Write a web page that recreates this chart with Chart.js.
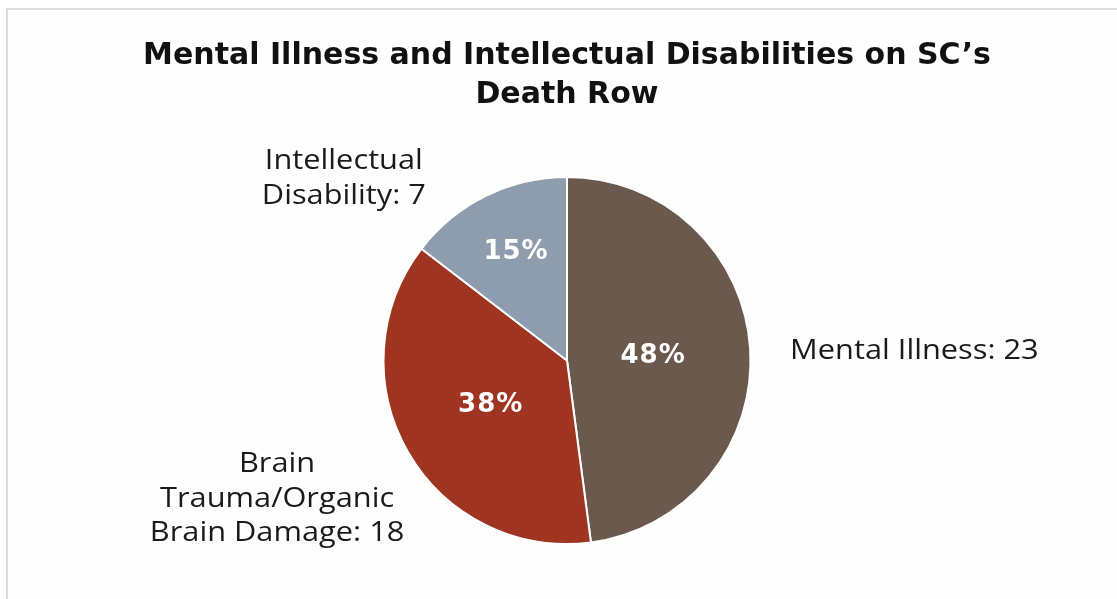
<!DOCTYPE html>
<html>
<head>
<meta charset="utf-8">
<script src="https://cdn.jsdelivr.net/npm/chart.js@4"></script>
<style>
  html, body { margin: 0; padding: 0; background: #fff; }
  #wrap { position: relative; width: 1117px; height: 599px; overflow: hidden; }
  #frame {
    position: absolute; left: 6px; top: 8px; right: -4px; bottom: -4px;
    border-left: 2px solid #dcdcdc; border-top: 2px solid #dcdcdc;
    background: #fefefe;
  }
  canvas { position: absolute; left: 0; top: 0; }
</style>
</head>
<body>
<div id="wrap">
  <div id="frame"></div>
  <canvas id="chart" width="1117" height="599"></canvas>
</div>
<script>
// chart data
const categories = ['Mental Illness', 'Brain Trauma/Organic Brain Damage', 'Intellectual Disability'];
const counts = [23, 18, 7];
const percentLabels = ['48%', '38%', '15%'];
const outerLabels = [
  ['Mental Illness: 23'],
  ['Brain', 'Trauma/Organic', 'Brain Damage: 18'],
  ['Intellectual', 'Disability: 7']
];
const sliceColors = ['#6b594e', '#9f3420', '#8d9dae'];

// where each label sits relative to its slice (px offsets from the rim point)
const outerOffsets = [[40, 3, 'left'], [-131, 47, 'center'], [-142, -17, 'center']];
const innerRadiusFactor = [0.47, 0.48, 0.665];
const labelStretch = 1.14; // widen Open Sans toward the original geometric face

const sliceLabels = {
  id: 'sliceLabels',
  afterDatasetsDraw(chart) {
    const ctx = chart.ctx;
    const meta = chart.getDatasetMeta(0);
    meta.data.forEach((arc, i) => {
      const { x, y, startAngle, endAngle, outerRadius } = arc.getProps(
        ['x', 'y', 'startAngle', 'endAngle', 'outerRadius'], true);
      const mid = (startAngle + endAngle) / 2;

      // percent inside the slice
      ctx.save();
      ctx.fillStyle = '#ffffff';
      ctx.font = 'bold 26px "DejaVu Sans"';
      ctx.letterSpacing = '1px';
      ctx.textAlign = 'center';
      ctx.textBaseline = 'middle';
      const f = innerRadiusFactor[i];
      ctx.fillText(percentLabels[i], x + Math.cos(mid) * outerRadius * f + (i === 2 ? 3 : 0),
        y + Math.sin(mid) * outerRadius * f + 1);
      ctx.restore();

      // category label outside
      const rimX = x + Math.cos(mid) * outerRadius;
      const rimY = y + Math.sin(mid) * outerRadius;
      const [dx, dy, align] = outerOffsets[i];
      const lines = outerLabels[i];
      const lh = 34.5;
      ctx.save();
      ctx.translate(rimX + dx, rimY + dy);
      ctx.scale(labelStretch, 1);
      ctx.fillStyle = '#1a1a1a';
      ctx.font = '27px "Open Sans"';
      ctx.textAlign = align;
      ctx.textBaseline = 'middle';
      const top = -(lines.length - 1) * lh / 2;
      lines.forEach((t, k) => ctx.fillText(t, 0, top + k * lh));
      ctx.restore();
    });
  }
};

new Chart(document.getElementById('chart'), {
  type: 'pie',
  data: {
    labels: categories,
    datasets: [{
      data: counts,
      backgroundColor: sliceColors,
      borderColor: '#ffffff',
      borderWidth: 2
    }]
  },
  options: {
    responsive: false,
    animation: false,
    layout: { padding: { left: 117, right: 100, top: 0, bottom: 54 } },
    plugins: {
      legend: { display: false },
      tooltip: { enabled: false },
      title: {
        display: true,
        text: ['Mental Illness and Intellectual Disabilities on SC\u2019s', 'Death Row'],
        color: '#111',
        font: { family: 'DejaVu Sans', size: 30, weight: 'bold', lineHeight: 1.3 },
        padding: { top: 37, bottom: 61 }
      }
    }
  },
  plugins: [sliceLabels]
});
</script>
</body>
</html>
